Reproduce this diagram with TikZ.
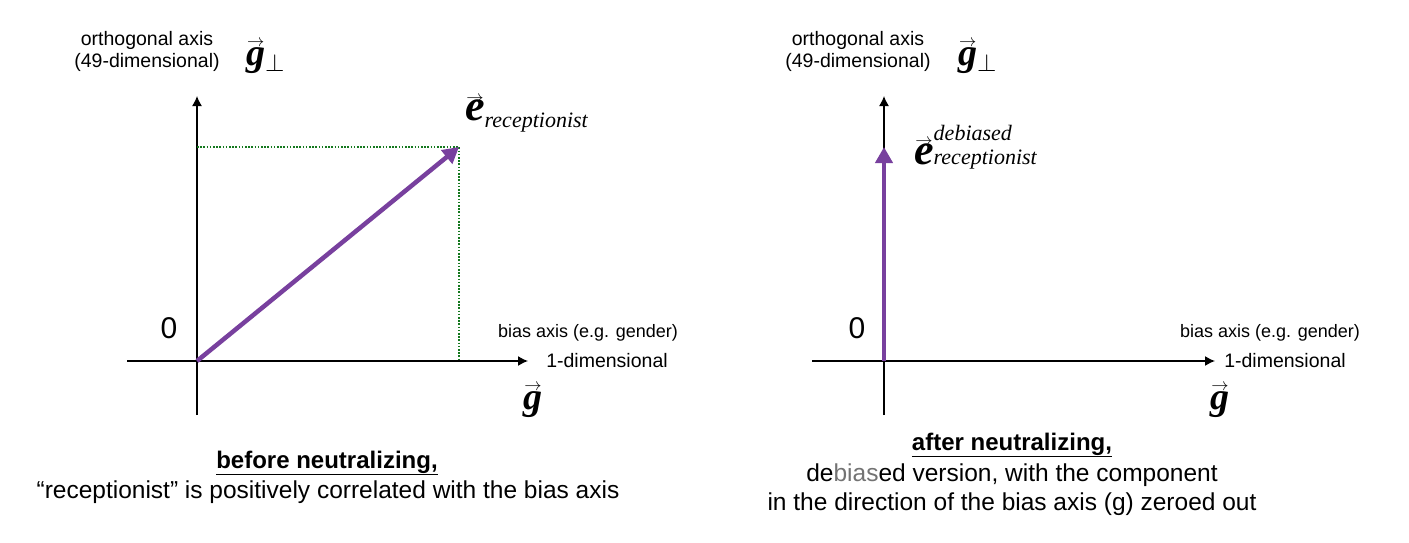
\documentclass[tikz,border=0pt]{standalone}
\usepackage{fontspec}
\usetikzlibrary{arrows.meta}
\setmainfont{Liberation Sans}
\newfontfamily\tms{Liberation Serif}
\definecolor{vecpurple}{RGB}{120,64,158}
\definecolor{dotgreen}{RGB}{20,120,30}
\newcommand{\vecl}[3]{\setbox0\hbox{#1}\rlap{\hbox to\wd0{\hss\raisebox{#2}{\fontsize{#3}{#3}\selectfont$\rightarrow$}\hss}}\box0}
\tikzset{
  axis/.style={line width=1.4pt,-{Latex[length=10pt,width=10pt]}},
  vecarrow/.style={line width=4.5pt,color=vecpurple,-{Triangle[length=16pt,width=17pt]}},
  guide/.style={line width=1.4pt,color=dotgreen,dash pattern=on 1.6pt off 1.6pt},
  lbl/.style={inner sep=0pt,align=center,font=\fontsize{19.5}{22}\selectfont},
  biaslbl/.style={inner sep=0pt,align=center,font=\fontsize{18}{22}\selectfont},
  captxt/.style={inner sep=0pt,align=center,font=\fontsize{24.5}{29}\selectfont},
  captitle/.style={inner sep=0pt,align=center,font=\bfseries\fontsize{24}{29}\selectfont},
  zero/.style={inner sep=0pt,font=\fontsize{30}{30}\selectfont},
  gl/.style={inner sep=0pt,font=\tms\bfseries\itshape\fontsize{38}{38}\selectfont},
}
\begin{document}
\begin{tikzpicture}[x=1pt,y=-1pt]
\useasboundingbox (0,0) rectangle (1409,543);
% ---------- left panel ----------
\coordinate (lo) at (197,361);
\coordinate (lxl) at (127,361);
\coordinate (lxr) at (528,361);
\coordinate (lyb) at (197,415);
\coordinate (lyt) at (197,96);
\coordinate (lp) at (459,147);
\coordinate (lpy) at (197,147);
\coordinate (lpx) at (459,361);
\draw[axis] (lxl) -- (lxr);
\draw[axis] (lyb) -- (lyt);
\draw[guide] (lpy) -- (lp) -- (lpx);
\draw[vecarrow] (lo) -- (lp);
\node[zero] (l0) at (169,328) {0};
\node[lbl] (lorth) at (147,51) {orthogonal axis\\(49-dimensional)};
\node[gl,anchor=base west] (lgp) at (246,66) {\vecl{g}{0.5em}{17}\raisebox{-0.15em}{\fontsize{24}{24}\selectfont$\perp$}};
\node[biaslbl] (lbias) at (588,333) {bias axis (e.g. gender)};
\node[lbl] (ldim) at (607,361) {1-dimensional};
\node[gl] (lg) at (533,401) {\vecl{g}{0.5em}{17}};
\node[inner sep=0pt,anchor=base west] (le) at (465,121) {{\tms\bfseries\itshape\fontsize{44}{44}\selectfont\vecl{e}{0.42em}{18}}\raisebox{-6pt}{\tms\itshape\fontsize{22}{22}\selectfont receptionist}};
\node[captitle] (lt1) at (327,463) {\underline{before neutralizing,}};
\node[captxt] (lt2) at (328,492) {“receptionist” is positively correlated with the bias axis};
% ---------- right panel ----------
\coordinate (ro) at (884,361);
\coordinate (rxl) at (812,361);
\coordinate (rxr) at (1215,361);
\coordinate (ryb) at (884,415);
\coordinate (ryt) at (884,96);
\coordinate (rp) at (884,147);
\draw[axis] (rxl) -- (rxr);
\draw[axis] (ryb) -- (ryt);
\draw[vecarrow] (ro) -- (rp);
\node[zero] (r0) at (857,328) {0};
\node[lbl] (rorth) at (858,51) {orthogonal axis\\(49-dimensional)};
\node[gl,anchor=base west] (rgp) at (958,66) {\vecl{g}{0.5em}{17}\raisebox{-0.15em}{\fontsize{24}{24}\selectfont$\perp$}};
\node[biaslbl] (rbias) at (1270,333) {bias axis (e.g. gender)};
\node[lbl] (rdim) at (1285,361) {1-dimensional};
\node[gl] (rg) at (1220,401) {\vecl{g}{0.5em}{17}};
\node[inner sep=0pt,anchor=base west] (re) at (914,164) {{\tms\bfseries\itshape\fontsize{44}{44}\selectfont\vecl{e}{0.42em}{18}}\rlap{\raisebox{24pt}{\tms\itshape\fontsize{22}{22}\selectfont debiased}}\raisebox{-1pt}{\tms\itshape\fontsize{22}{22}\selectfont receptionist}};
\node[captitle] (rt1) at (1012,445) {\underline{after neutralizing,}};
\node[captxt] (rt2) at (1012,490) {de{\color{black!55}bias}ed version, with the component\\in the direction of the bias axis (g) zeroed out};
\end{tikzpicture}
\end{document}
